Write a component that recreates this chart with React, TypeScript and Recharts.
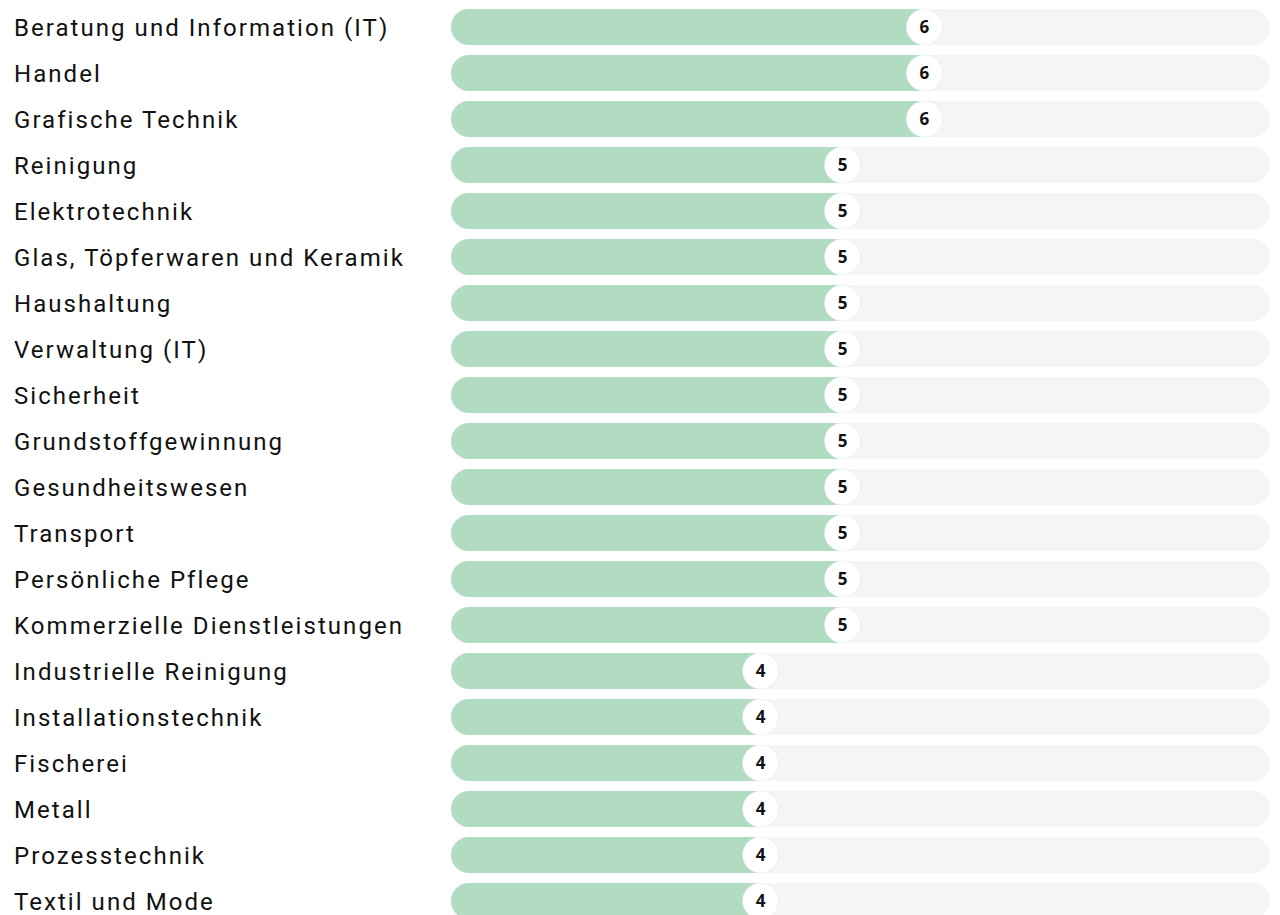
import { Bar, BarChart, LabelList, XAxis, YAxis } from "recharts";

const categories = [
  "Beratung und Information (IT)",
  "Handel",
  "Grafische Technik",
  "Reinigung",
  "Elektrotechnik",
  "Glas, Töpferwaren und Keramik",
  "Haushaltung",
  "Verwaltung (IT)",
  "Sicherheit",
  "Grundstoffgewinnung",
  "Gesundheitswesen",
  "Transport",
  "Persönliche Pflege",
  "Kommerzielle Dienstleistungen",
  "Industrielle Reinigung",
  "Installationstechnik",
  "Fischerei",
  "Metall",
  "Prozesstechnik",
  "Textil und Mode",
];

const values = [6, 6, 6, 5, 5, 5, 5, 5, 5, 5, 5, 5, 5, 5, 4, 4, 4, 4, 4, 4];

const maxValue = 10;

const data = categories.map((name, i) => ({ name, value: values[i] }));

const GREEN = "#b1dcc1";
const TRACK = "#f5f5f5";

function CategoryTick(props: any) {
  const { y, payload } = props;
  return (
    <text
      x={14}
      y={y}
      dy="0.36em"
      textAnchor="start"
      fontFamily="Roboto, sans-serif"
      fontSize={24}
      letterSpacing={2.05}
      fill="#111111"
    >
      {payload.value}
    </text>
  );
}

function ValueBadge(props: any) {
  const { x, y, width, height, value } = props;
  const cx = x + width - 18;
  const cy = y + height / 2;
  return (
    <g>
      <circle cx={cx} cy={cy} r={18} fill="#ffffff" stroke="#eeeeee" strokeWidth={0.5} />
      <text
        x={cx}
        y={cy}
        dy="0.36em"
        textAnchor="middle"
        fontFamily="'Open Sans', sans-serif"
        fontWeight={700}
        fontSize={17}
        fill="#111111"
      >
        {value}
      </text>
    </g>
  );
}

export default function App() {
  return (
    <div style={{ position: "absolute", left: 0, top: 0, background: "#fff" }}>
      <BarChart
        width={1280}
        height={924}
        data={data}
        layout="vertical"
        margin={{ top: 4, right: 10, bottom: 0, left: 0 }}
        barSize={36}
      >
        <XAxis type="number" domain={[0, maxValue]} hide />
        <YAxis
          type="category"
          dataKey="name"
          width={451}
          axisLine={false}
          tickLine={false}
          interval={0}
          tick={<CategoryTick />}
        />
        <Bar
          dataKey="value"
          fill={GREEN}
          radius={[18, 18, 18, 18]}
          background={{ fill: TRACK, radius: 18 } as any}
          isAnimationActive={false}
        >
          <LabelList dataKey="value" content={<ValueBadge />} />
        </Bar>
      </BarChart>
    </div>
  );
}
